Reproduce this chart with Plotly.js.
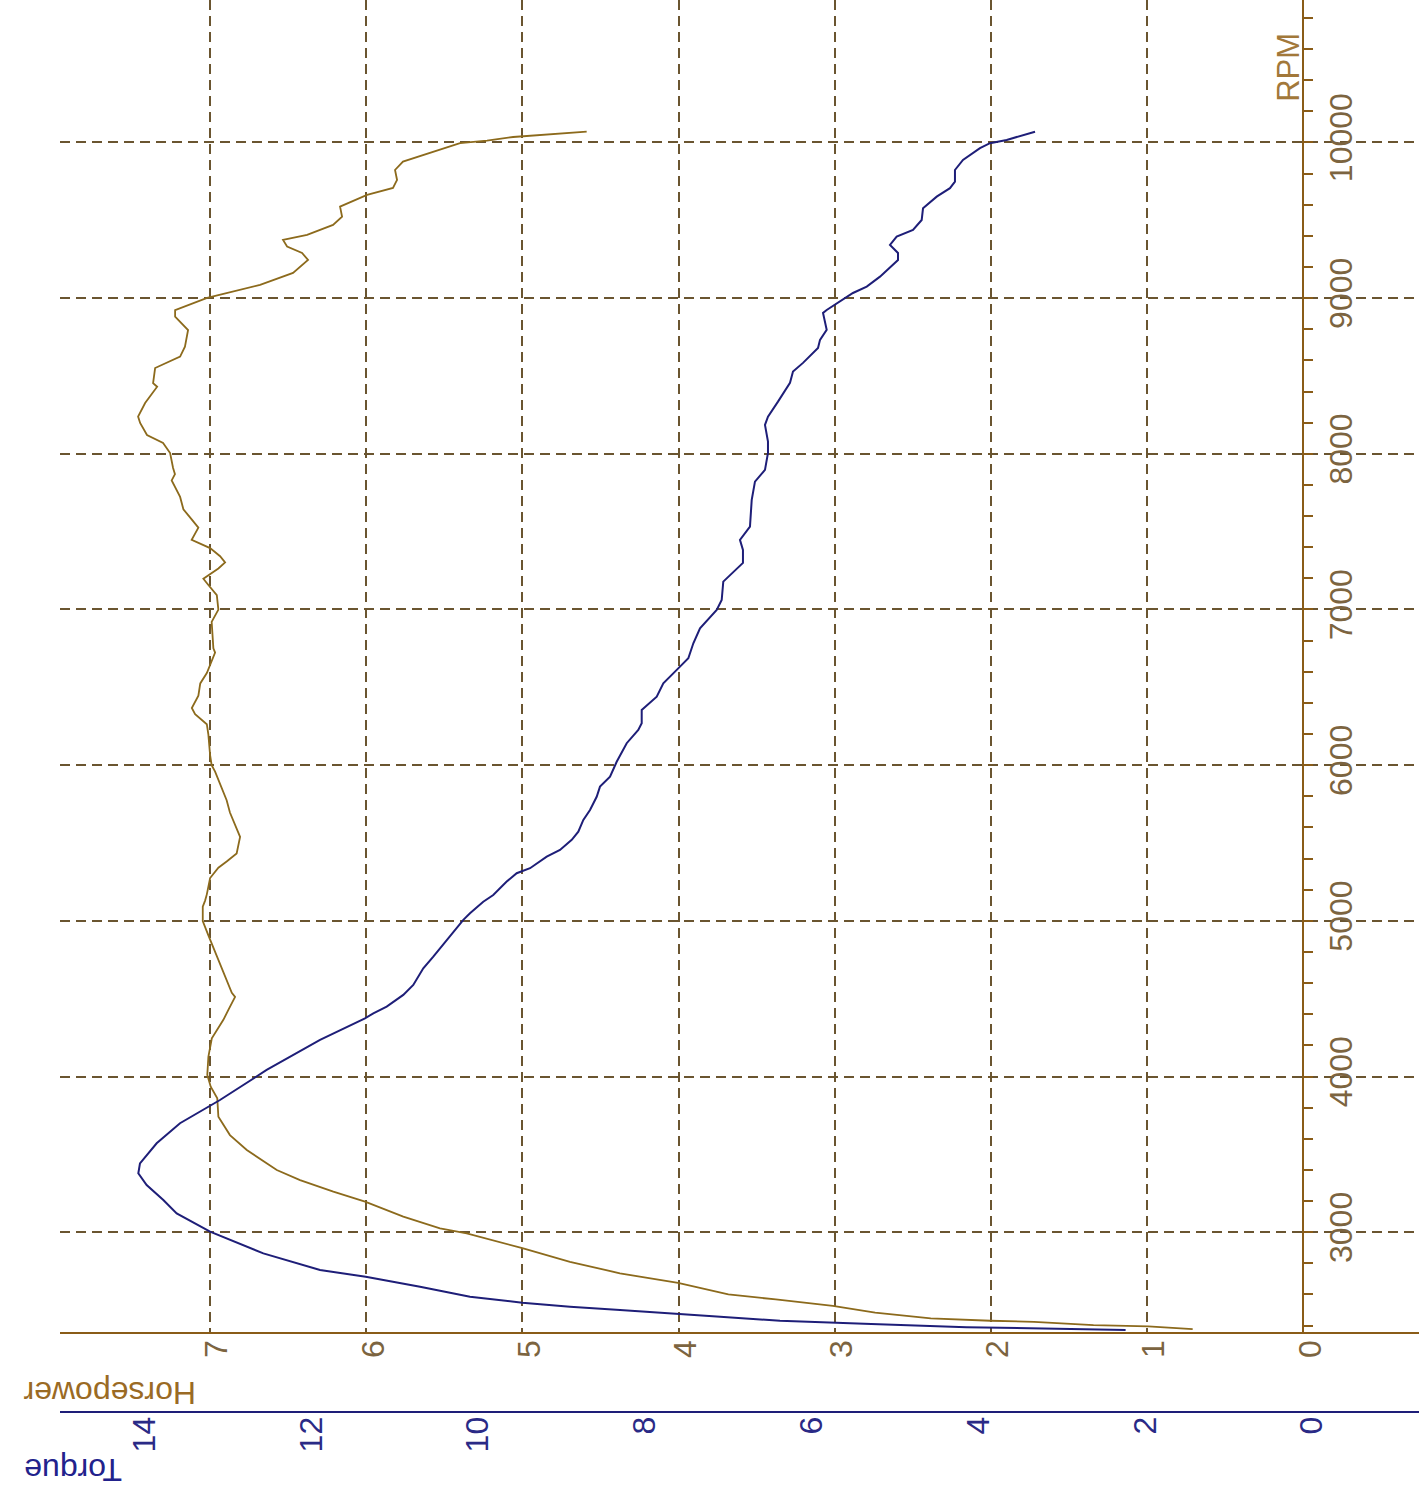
<!DOCTYPE html>
<html>
<head>
<meta charset="utf-8">
<script src="https://cdn.plot.ly/plotly-3.0.1.min.js"></script>
<style>
  html, body { margin: 0; padding: 0; background: #ffffff; }
  #chart { width: 1419px; height: 1498px; }
</style>
</head>
<body>
<div id="chart"></div>
<script>
// Horsepower curve (RPM, hp)
const hpRpm = [2377,2388,2395,2403,2424,2431,2447,2483,2526,2568,2600,2674,2736,2810,2897,2993,3025,3100,3196,3260,3335,3399,3528,3624,3742,3860,3935,4010,4127,4246,4364,4428,4511,4538,4617,4722,4801,4907,4998,5091,5130,5170,5275,5341,5381,5433,5539,5591,5696,5775,5880,5959,5999,6065,6196,6263,6328,6367,6446,6525,6592,6644,6723,6750,6920,6999,7092,7157,7197,7263,7302,7342,7394,7447,7526,7579,7644,7723,7829,7869,7909,8005,8069,8121,8198,8239,8326,8431,8454,8551,8624,8688,8795,8881,8923,9001,9033,9085,9162,9245,9290,9331,9374,9406,9470,9523,9588,9663,9708,9759,9823,9877,9995,10012,10035,10048,10069];
const hpVal = [0.708,0.912,0.993,1.343,1.724,2.004,2.385,2.741,3.012,3.377,3.681,4.003,4.375,4.695,5.000,5.356,5.527,5.762,6.007,6.210,6.423,6.572,6.764,6.872,6.946,6.953,6.995,7.017,7.010,6.988,6.914,6.882,6.839,6.860,6.893,6.935,6.967,7.010,7.046,7.046,7.031,7.020,6.999,6.946,6.893,6.829,6.807,6.829,6.872,6.893,6.935,6.967,6.989,6.999,7.010,7.020,7.095,7.116,7.074,7.062,7.020,6.999,6.967,6.978,6.989,6.946,6.956,7.010,7.042,6.946,6.903,6.935,6.999,7.117,7.074,7.117,7.170,7.191,7.245,7.224,7.236,7.255,7.300,7.403,7.447,7.460,7.415,7.338,7.364,7.351,7.191,7.160,7.140,7.223,7.223,7.018,6.890,6.679,6.468,6.372,6.410,6.506,6.532,6.378,6.212,6.154,6.167,5.994,5.828,5.802,5.815,5.764,5.399,5.226,5.059,4.867,4.588];

// Torque curve (RPM, torque)
const tqRpm = [2372,2378,2385,2390,2410,2431,2458,2473,2500,2521,2547,2586,2650,2714,2757,2864,3003,3121,3207,3303,3378,3442,3571,3700,3849,4042,4235,4374,4406,4449,4524,4588,4695,4770,4877,5006,5049,5123,5166,5252,5306,5338,5412,5455,5520,5573,5648,5712,5797,5862,5926,6022,6141,6226,6269,6355,6440,6526,6633,6687,6783,6879,6997,7061,7179,7299,7382,7447,7532,7704,7821,7897,8006,8078,8186,8239,8335,8456,8528,8584,8680,8732,8796,8841,8905,8924,8977,9033,9074,9138,9245,9290,9342,9395,9438,9502,9577,9652,9706,9748,9823,9888,9963,9995,10016,10069];
const tqVal = [2.235,2.854,3.333,4.143,5.284,6.379,7.140,7.602,8.297,8.897,9.469,10.096,10.695,11.346,11.894,12.574,13.213,13.613,13.773,13.973,14.073,14.053,13.853,13.573,13.094,12.534,11.894,11.355,11.255,11.095,10.896,10.776,10.656,10.536,10.375,10.176,10.096,9.937,9.817,9.656,9.536,9.376,9.176,9.017,8.876,8.797,8.737,8.657,8.577,8.537,8.417,8.337,8.217,8.078,8.037,8.037,7.857,7.778,7.578,7.478,7.418,7.338,7.138,7.078,7.059,6.823,6.823,6.859,6.739,6.718,6.679,6.559,6.523,6.523,6.559,6.523,6.403,6.259,6.223,6.103,5.923,5.899,5.819,5.839,5.863,5.819,5.659,5.504,5.339,5.180,4.964,4.964,5.060,4.980,4.784,4.680,4.664,4.500,4.341,4.281,4.281,4.185,3.981,3.861,3.661,3.321];

// Tick labels
const rpmTicks = [3000,4000,5000,6000,7000,8000,9000,10000];
const hpTicks = [0,1,2,3,4,5,6,7];
const tqTicks = [0,2,4,6,8,10,12,14];

const BROWN = '#8c6a1c';
const AXISBROWN = '#8a5c18';
const GRID = '#6a5530';
const BLUE = '#1e1e78';
const FONT = 'Liberation Sans, Arial, sans-serif';

const traces = [
  {
    type: 'scatter', mode: 'lines', name: 'Horsepower',
    x: hpVal, y: hpRpm, xaxis: 'x', yaxis: 'y',
    line: {color: BROWN, width: 1.8},
    hoverinfo: 'skip', showlegend: false
  },
  {
    type: 'scatter', mode: 'lines', name: 'Torque',
    x: tqVal, y: tqRpm, xaxis: 'x2', yaxis: 'y',
    line: {color: BLUE, width: 2},
    hoverinfo: 'skip', showlegend: false
  }
];

const layout = {
  width: 1419, height: 1498,
  margin: {l: 60, r: 0, t: 0, b: 86, pad: 0},
  paper_bgcolor: '#ffffff',
  plot_bgcolor: '#ffffff',
  showlegend: false,
  font: {family: FONT},
  xaxis: {
    range: [7.96, -0.741],
    anchor: 'y',
    tickvals: hpTicks,
    ticktext: hpTicks.map(String),
    tickangle: -90,
    tickfont: {family: FONT, size: 32, color: '#7c6440'},
    ticks: '',
    ticklabelshift: -7,
    ticklabelstandoff: -7,
    showgrid: true, gridcolor: GRID, gridwidth: 2, griddash: '10px,6px',
    zeroline: false,
    showline: true, linecolor: AXISBROWN, linewidth: 2
  },
  xaxis2: {
    range: [15.012, -1.283],
    overlaying: 'x',
    anchor: 'free', position: 0, side: 'bottom',
    tickvals: tqTicks,
    ticktext: tqTicks.map(String),
    tickangle: -90,
    tickfont: {family: FONT, size: 32, color: '#2a2a86'},
    ticks: '',
    ticklabelstandoff: -9,
    showgrid: false, zeroline: false,
    showline: true, linecolor: BLUE, linewidth: 2
  },
  yaxis: {
    range: [2357, 10915],
    domain: [0.05645, 1],
    anchor: 'free', position: 0.91487, side: 'right',
    tickvals: rpmTicks,
    ticktext: rpmTicks.map(String),
    tickangle: -90,
    tickfont: {family: FONT, size: 32, color: '#7c6440'},
    ticks: 'outside', ticklen: 9, tickwidth: 2, tickcolor: AXISBROWN,
    ticklabelstandoff: 0,
    minor: {dtick: 200, tick0: 0, ticks: 'outside', ticklen: 9, tickwidth: 2, tickcolor: AXISBROWN, showgrid: false},
    showgrid: true, gridcolor: GRID, gridwidth: 2, griddash: '10px,6px',
    zeroline: false,
    showline: true, linecolor: AXISBROWN, linewidth: 2
  },
  annotations: [
    {text: 'RPM', xref: 'paper', yref: 'paper', x: 0.9043, y: 0.9526,
     textangle: -90, showarrow: false, xanchor: 'center', yanchor: 'middle',
     font: {family: FONT, size: 31, color: '#a2783a'}},
    {text: 'Horsepower', xref: 'paper', yref: 'paper', x: 0.0368, y: 0.01346,
     textangle: 180, showarrow: false, xanchor: 'center', yanchor: 'middle',
     font: {family: FONT, size: 32, color: '#9a6a24'}},
    {text: 'Torque', xref: 'paper', yref: 'paper', x: 0.0096, y: -0.041,
     textangle: 180, showarrow: false, xanchor: 'center', yanchor: 'middle',
     font: {family: FONT, size: 32, color: '#22228c'}}
  ]
};

Plotly.newPlot('chart', traces, layout, {displayModeBar: false, staticPlot: true});
</script>
</body>
</html>
